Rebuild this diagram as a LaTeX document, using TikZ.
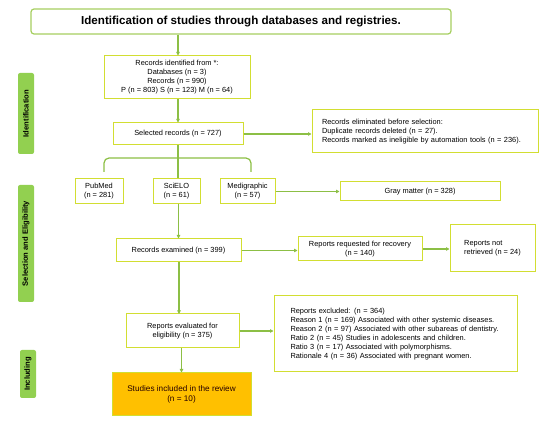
\documentclass[tikz,border=0pt]{standalone}
\usepackage{fontspec}
\setmainfont{Liberation Sans}
\usetikzlibrary{arrows.meta}
\definecolor{titleborder}{HTML}{A6CF60}
\definecolor{boxborder}{HTML}{D2DE32}
\definecolor{arrowgreen}{HTML}{8CBF45}
\definecolor{sidegreen}{HTML}{92D050}
\definecolor{studyfill}{HTML}{FFC000}
\tikzset{
  box/.style={draw=boxborder, line width=1pt, fill=white, inner sep=2pt, font=\fontsize{7.4}{9}\selectfont, align=center},
  titlebox/.style={draw=titleborder, line width=1.2pt, rounded corners=3pt, fill=white, font=\bfseries\fontsize{11.6}{13}\selectfont},
  sidebox/.style={fill=sidegreen, rounded corners=2pt, font=\bfseries\fontsize{7.6}{8}\selectfont, rotate=90, inner sep=0pt},
  conn/.style={draw=arrowgreen, line width=1.2pt, -{Triangle[length=3.5pt,width=3.5pt]}},
  plainconn/.style={draw=arrowgreen, line width=1.2pt}
}
\begin{document}
\begin{tikzpicture}[x=1pt,y=-1pt]
\useasboundingbox (0,0) rectangle (550,422);
\fill[white] (0,0) rectangle (550,422);
% side labels
\node[sidebox, minimum width=81pt, minimum height=16pt] (sideid) at (26,113.5) {Identification};
\node[sidebox, minimum width=117pt, minimum height=16pt] (sidesel) at (26,243.5) {Selection and Eligibility};
\node[sidebox, minimum width=48pt, minimum height=16pt] (sideinc) at (28,374) {Including};
% title
\node[titlebox, minimum width=420pt, minimum height=25pt] (title) at (241,21.5) {Identification of studies through databases and registries.};
% boxes
\node[box, minimum width=146pt, minimum height=43pt] (ident) at (177,77.5) {Records identified from *:\\Databases (n = 3)\\Records (n = 990)\\P (n = 803) S (n = 123) M (n = 64)};
\node[box, minimum width=130pt, minimum height=22pt] (sel) at (178,134) {Selected records (n = 727)};
\node[box, minimum width=226pt, minimum height=43pt, align=left, text width=206pt] (elim) at (425,131.5) {Records eliminated before selection:\\Duplicate records deleted (n = 27).\\Records marked as ineligible by automation tools (n = 236).};
\node[box, minimum width=48pt, minimum height=25pt] (pubmed) at (99,191.5) {PubMed\\(n = 281)};
\node[box, minimum width=47pt, minimum height=25pt] (scielo) at (176.5,191.5) {SciELO\\(n = 61)};
\node[box, minimum width=55pt, minimum height=25pt] (medi) at (247.5,191.5) {Medigraphic\\(n = 57)};
\node[box, minimum width=160pt, minimum height=19pt] (gray) at (420,191.5) {Gray matter (n = 328)};
\node[box, minimum width=125pt, minimum height=23pt] (exam) at (178.5,250.5) {Records examined (n = 399)};
\node[box, minimum width=124pt, minimum height=24pt] (req) at (360,249) {Reports requested for recovery\\(n = 140)};
\node[box, minimum width=85pt, minimum height=47pt, align=left] (notret) at (492.5,248.5) {Reports not\\retrieved (n = 24)};
\node[box, minimum width=113pt, minimum height=34pt] (eval) at (182.5,331) {Reports evaluated for\\eligibility (n = 375)};
\node[box, minimum width=243pt, minimum height=76pt, align=left, text width=210pt] (excl) at (395.5,334) {Reports excluded: (n = 364)\\Reason 1 (n = 169) Associated with other systemic diseases.\\Reason 2 (n = 97) Associated with other subareas of dentistry.\\Ratio 2 (n = 45) Studies in adolescents and children.\\Ratio 3 (n = 17) Associated with polymorphisms.\\Rationale 4 (n = 36) Associated with pregnant women.};
\node[box, fill=studyfill, text=black!85!red, minimum width=139pt, minimum height=43pt, font=\fontsize{8.2}{10}\selectfont] (study) at (181.5,394.5) {Studies included in the review\\(n = 10)};
% connectors
\draw[conn] (title.south -| sel) -- (ident.north -| sel);
\draw[conn] (ident.south -| sel) -- (sel.north);
\draw[conn] (sel.east) -- (elim.west |- sel.east);
\coordinate (bl) at (104,172);
\coordinate (br) at (251,172);
\draw[plainconn] (sel.south) -- (sel.south |- scielo.north);
\draw[plainconn, rounded corners=5pt] (bl) -- (104,158) -- (251,158) -- (br);
\draw[conn] (medi.east) -- (gray.west);
\draw[conn] (scielo.south -| exam) -- (exam.north);
\draw[conn] (exam.east) -- (req.west |- exam.east);
\draw[conn] (req.east) -- (notret.west |- req.east);
\draw[conn] (179,262) -- (179,314);
\draw[conn] (eval.east) -- (excl.west |- eval.east);
\draw[conn] (eval.south -| study) -- (study.north);
\end{tikzpicture}
\end{document}
